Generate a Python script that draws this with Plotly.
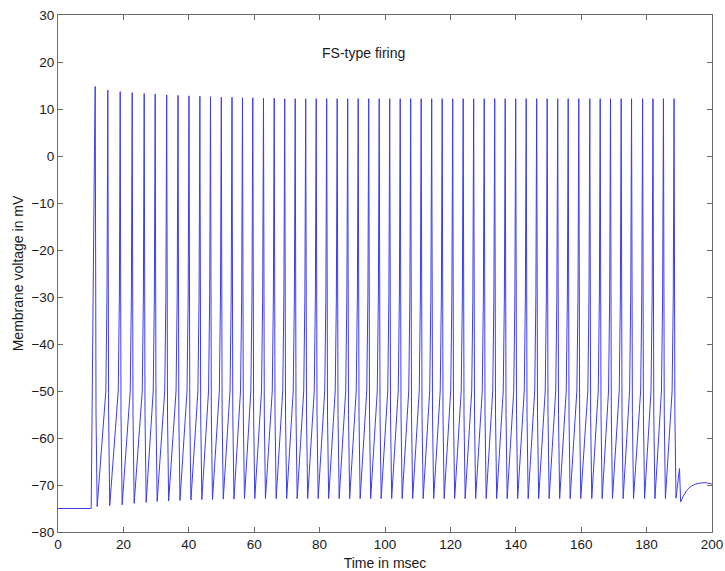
import plotly.graph_objects as go

# Spike peak times (ms) and peak voltages (mV) of the FS-type spike train
spike_times = [11.38, 15.23, 19.02, 22.69, 26.36, 29.72, 33.24, 36.70, 40.06, 43.39,
               46.64, 49.94, 53.21, 56.42, 59.57, 62.84, 66.12, 69.33, 72.54, 75.75,
               78.96, 82.17, 85.38, 88.59, 91.80, 95.02, 98.23, 101.44, 104.65, 107.86,
               111.07, 114.28, 117.49, 120.70, 123.91, 127.12, 130.34, 133.55, 136.76, 139.97,
               143.18, 146.39, 149.60, 152.81, 156.02, 159.27, 162.63, 165.81, 168.96, 172.23,
               175.40, 178.78, 181.95, 185.15, 188.40]
spike_peaks = [14.8, 14.0, 13.7, 13.5, 13.3, 13.2, 13.0, 12.9, 12.8, 12.7,
               12.6, 12.5, 12.5, 12.4, 12.4, 12.3, 12.3, 12.2, 12.2, 12.2,
               12.2, 12.2, 12.2, 12.2, 12.2, 12.2, 12.2, 12.2, 12.2, 12.2,
               12.2, 12.2, 12.2, 12.2, 12.2, 12.2, 12.2, 12.2, 12.2, 12.2,
               12.2, 12.2, 12.2, 12.2, 12.2, 12.2, 12.2, 12.2, 12.2, 12.2,
               12.2, 12.2, 12.2, 12.2, 12.2]
# After-hyperpolarisation minimum following each spike (mV)
trough_v = [-74.6, -74.4, -74.2, -73.9, -73.7, -73.5, -73.4, -73.3, -73.2, -73.1,
            -73.1, -73.0, -73.0, -72.9, -72.9, -72.9, -72.9, -72.9, -72.9, -72.9,
            -72.9, -72.9, -72.9, -72.9, -72.9, -72.9, -72.9, -72.9, -72.9, -72.9,
            -72.9, -72.9, -72.9, -72.9, -72.9, -72.9, -72.9, -72.9, -72.9, -72.9,
            -72.9, -72.9, -72.9, -72.9, -72.9, -72.9, -72.9, -72.9, -72.9, -72.9,
            -72.9, -72.9, -72.9, -72.9, -72.8]

# Resting segment before current onset
rest_t = [0.0, 10.15]
rest_v = [-75.0, -75.0]
# First upstroke from rest
onset_t = [11.15]
onset_v = [1.0]
# Spike shape around each peak: falling edge and rising edge (ms offsets, mV)
fall_dt = [0.25, 0.6]
fall_v = [-55.0, None]          # None -> the spike's own trough value
rise_dt = [-0.6, -0.25]
rise_v = [-50.0, -30.0]
# Trace after the last spike: aborted spikelet and recovery to new rest
tail_t = [190.06, 190.40, 191.2, 192.2, 193.3, 194.6, 196.2, 198.0, 200.0]
tail_v = [-66.5, -73.6, -72.4, -71.2, -70.4, -69.9, -69.6, -69.5, -69.8]

t, v = list(rest_t), list(rest_v)
t += onset_t
v += onset_v
for k, (ts, pk, tr) in enumerate(zip(spike_times, spike_peaks, trough_v)):
    t.append(ts)
    v.append(pk)
    for dt, fv in zip(fall_dt, fall_v):
        t.append(ts + dt)
        v.append(tr if fv is None else fv)
    if k + 1 < len(spike_times):
        nxt = spike_times[k + 1]
        for dt, rv in zip(rise_dt, rise_v):
            t.append(nxt + dt)
            v.append(rv)
t += tail_t
v += tail_v

axis_color = "#6a6a6a"
family = "Liberation Sans, Arial, sans-serif"
tick_font = dict(family=family, size=13.5, color="#1a1a1a")
label_font = dict(family=family, size=14, color="#1a1a1a")

fig = go.Figure()
fig.add_trace(go.Scatter(x=t, y=v, mode="lines",
                         line=dict(color="rgb(60,60,240)", width=1),
                         showlegend=False, hoverinfo="skip"))

fig.add_annotation(x=93.5, y=21.9, xref="x", yref="y", text="FS-type firing",
                   showarrow=False, font=label_font)

common = dict(showline=True, linecolor=axis_color, linewidth=1, mirror="ticks",
              ticks="inside", ticklen=5, tickcolor=axis_color, tickwidth=1,
              showgrid=False, zeroline=False, tickfont=tick_font, automargin=False)

fig.update_xaxes(range=[0, 200], tickmode="array", tickvals=list(range(0, 201, 20)),
                 title=dict(text="Time in msec", font=label_font, standoff=7), **common)
fig.update_yaxes(range=[-80, 30], tickmode="array", tickvals=list(range(-80, 31, 10)),
                 title=dict(text="Membrane voltage in mV", font=label_font, standoff=4), **common)

fig.update_layout(width=725, height=571, margin=dict(l=58, r=13, t=15, b=39),
                  paper_bgcolor="white", plot_bgcolor="white", font=tick_font)

fig.write_html("out.html")
